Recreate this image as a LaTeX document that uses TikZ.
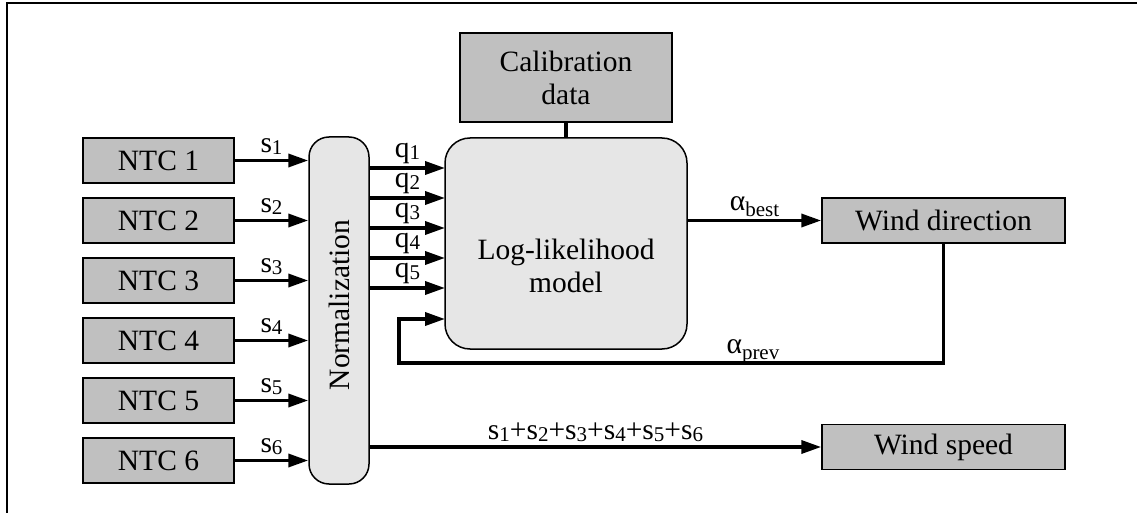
\documentclass[tikz,border=0pt]{standalone}
\usepackage{fontspec}
\setmainfont{Liberation Serif}
\usetikzlibrary{arrows.meta}
\definecolor{boxgray}{HTML}{C0C0C0}
\definecolor{softgray}{HTML}{E6E6E6}
\newcommand{\lowidx}[2][2pt]{\raisebox{-#1}{\fontsize{21}{24}\selectfont #2}}

\begin{document}
\begin{tikzpicture}[x=1pt,y=-1pt,font=\fontsize{29.5}{33}\selectfont,>={Triangle[length=20pt,width=13pt]}]
  \tikzset{sensorbox/.style={draw,line width=1.5pt,fill=boxgray,minimum width=151pt,minimum height=45pt,inner sep=0pt}}
  \tikzset{outbox/.style={sensorbox,minimum width=243pt}}
  \tikzset{softbox/.style={draw,line width=1.5pt,fill=softgray,inner sep=0pt}}
  \tikzset{sig/.style={line width=3.5pt,->}}
  \tikzset{tag/.style={above,inner sep=4pt}}
  \useasboundingbox (0,0) rectangle (1137,513);
  \draw[line width=1.5pt] (7,513) -- (7,3) -- (1137,3);
  \node[sensorbox] (ntc1) at (158.5,160.5) {NTC 1};
  \node[sensorbox] (ntc2) at (158.5,220.5) {NTC 2};
  \node[sensorbox] (ntc3) at (158.5,280.5) {NTC 3};
  \node[sensorbox] (ntc4) at (158.5,340.5) {NTC 4};
  \node[sensorbox] (ntc5) at (158.5,400.5) {NTC 5};
  \node[sensorbox] (ntc6) at (158.5,460.5) {NTC 6};
  \node[softbox,rounded corners=20pt,minimum width=60pt,minimum height=347pt] (norm) at (339,310.5) {};
  \node[rotate=90] (normtxt) at (339,305) {Normalization};
  \node[softbox,rounded corners=25pt,minimum width=242pt,minimum height=211pt] (ll) at (566,243.5) {};
  \node[align=center] (lltxt) at (566,266) {Log-likelihood\\model};
  \node[sensorbox,minimum width=212pt,minimum height=89pt,align=center] (cal) at (566,77.5) {Calibration\\data};
  \node[outbox] (wdir) at (943.5,220.5) {Wind direction};
  \node[outbox] (wspeed) at (943.5,447) {Wind speed};
  \coordinate (llin1) at (445,168);
  \coordinate (llin2) at (445,198);
  \coordinate (llin3) at (445,228);
  \coordinate (llin4) at (445,258);
  \coordinate (llin5) at (445,288);
  \coordinate (llin6) at (445,319);
  \coordinate (fbturn) at (399,363);
  \draw[sig] (ntc1) -- (ntc1 -| norm.west) node[tag,midway] {s\lowidx{1}};
  \draw[sig] (ntc2) -- (ntc2 -| norm.west) node[tag,midway] {s\lowidx{2}};
  \draw[sig] (ntc3) -- (ntc3 -| norm.west) node[tag,midway] {s\lowidx{3}};
  \draw[sig] (ntc4) -- (ntc4 -| norm.west) node[tag,midway] {s\lowidx{4}};
  \draw[sig] (ntc5) -- (ntc5 -| norm.west) node[tag,midway] {s\lowidx{5}};
  \draw[sig] (ntc6) -- (ntc6 -| norm.west) node[tag,midway] {s\lowidx{6}};
  \draw[sig] (norm.east |- llin1) -- (llin1) node[tag,midway,inner sep=2pt] {q\lowidx{1}};
  \draw[sig] (norm.east |- llin2) -- (llin2) node[tag,midway,inner sep=2pt] {q\lowidx{2}};
  \draw[sig] (norm.east |- llin3) -- (llin3) node[tag,midway,inner sep=2pt] {q\lowidx{3}};
  \draw[sig] (norm.east |- llin4) -- (llin4) node[tag,midway,inner sep=2pt] {q\lowidx{4}};
  \draw[sig] (norm.east |- llin5) -- (llin5) node[tag,midway,inner sep=2pt] {q\lowidx{5}};
  \draw[line width=3.5pt] (cal) -- (ll);
  \draw[sig] (ll.east |- wdir) -- (wdir.west) node[tag,midway,inner sep=2pt] {α\lowidx[6pt]{best}};
  \draw[sig] (wdir.south) |- node[tag,pos=0.675,inner sep=-3pt] {α\lowidx[6pt]{prev}} (fbturn) -- (fbturn |- llin6) -- (llin6);
  \draw[sig] (norm.east |- wspeed) -- (wspeed.west) node[tag,midway] {s\lowidx{1}+s\lowidx{2}+s\lowidx{3}+s\lowidx{4}+s\lowidx{5}+s\lowidx{6}};
\end{tikzpicture}
\end{document}
